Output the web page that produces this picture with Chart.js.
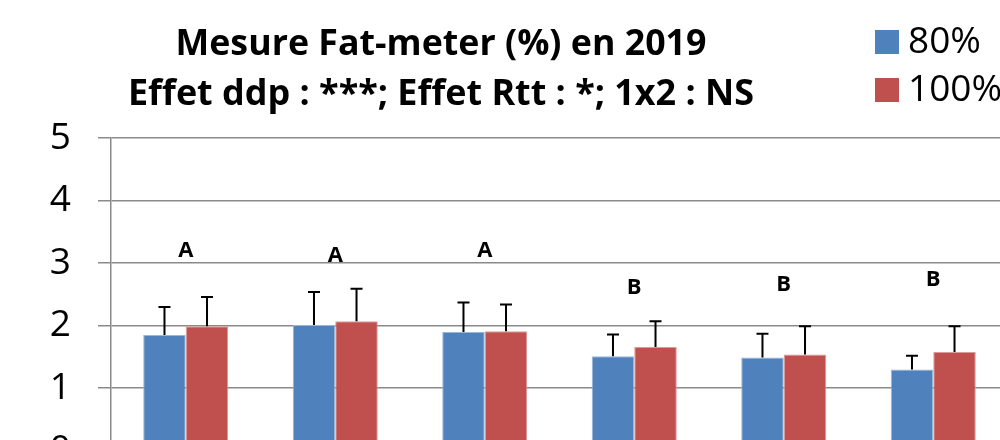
<!DOCTYPE html>
<html>
<head>
<meta charset="utf-8">
<script src="https://cdn.jsdelivr.net/npm/chart.js@4/dist/chart.umd.min.js"></script>
<style>
  html, body { margin: 0; padding: 0; background: #fff; overflow: hidden; width: 1000px; height: 440px; }
  #wrap { position: absolute; left: 0; top: 0; width: 1010px; height: 500px; }
</style>
</head>
<body>
<div id="wrap"><canvas id="c" width="1010" height="500"></canvas></div>
<script>
// ---- data ----
const categories = ['1', '2', '3', '4', '5', '6'];
const seriesNames = ['80%', '100%'];
const values80  = [1.85, 2.01, 1.90, 1.51, 1.49, 1.30];
const values100 = [1.99, 2.07, 1.91, 1.66, 1.54, 1.58];
const err80  = [0.45, 0.53, 0.47, 0.35, 0.38, 0.22];
const err100 = [0.47, 0.52, 0.43, 0.41, 0.45, 0.41];
const groupLetters = ['A', 'A', 'A', 'B', 'B', 'B'];
const letterLevels = [3.2, 3.12, 3.2, 2.61, 2.66, 2.73];
const yTicks = [0, 1, 2, 3, 4, 5];
const titleLines = ['Mesure Fat-meter (%) en 2019', 'Effet ddp : ***; Effet Rtt : *; 1x2 : NS'];

const colors = ['#4F81BD', '#C0504D'];
const borders = ['#9db6d8', '#dc9a98'];
const errors = [err80, err100];

const decorPlugin = {
  id: 'decor',
  afterDatasetsDraw(chart) {
    const ctx = chart.ctx;
    const y = chart.scales.y, x = chart.scales.x;
    // error bars (upper)
    ctx.save();
    ctx.strokeStyle = '#000';
    ctx.lineWidth = 2;
    chart.data.datasets.forEach((ds, di) => {
      const meta = chart.getDatasetMeta(di);
      meta.data.forEach((bar, i) => {
        const top = y.getPixelForValue(ds.data[i] + errors[di][i]);
        ctx.beginPath();
        ctx.moveTo(bar.x, bar.y);
        ctx.lineTo(bar.x, top);
        ctx.moveTo(bar.x - 6, top);
        ctx.lineTo(bar.x + 6, top);
        ctx.stroke();
      });
    });
    // group letters
    ctx.fillStyle = '#000';
    ctx.font = 'bold 22px "Open Sans", sans-serif';
    ctx.textAlign = 'center';
    ctx.textBaseline = 'middle';
    groupLetters.forEach((l, i) => {
      ctx.fillText(l, x.getPixelForValue(i), y.getPixelForValue(letterLevels[i]));
    });
    ctx.restore();
  },
  afterDraw(chart) {
    const ctx = chart.ctx;
    ctx.save();
    // title
    ctx.fillStyle = '#000';
    ctx.font = 'bold 35px "Open Sans", sans-serif';
    ctx.textAlign = 'center';
    ctx.textBaseline = 'alphabetic';
    const targetW = [531, 626];
    const baselines = [55, 105];
    titleLines.forEach((t, k) => {
      const w = ctx.measureText(t).width;
      ctx.save();
      ctx.translate(441, baselines[k]);
      ctx.scale(targetW[k] / w, 1);
      ctx.fillText(t, 0, 0);
      ctx.restore();
    });
    // legend
    ctx.font = '37px "Open Sans", sans-serif';
    ctx.textAlign = 'left';
    ctx.textBaseline = 'middle';
    chart.data.datasets.forEach((ds, di) => {
      const top = 30 + di * 48;
      ctx.fillStyle = ds.backgroundColor;
      ctx.fillRect(875, top, 24, 24);
      ctx.fillStyle = '#000';
      ctx.fillText(ds.label, 908, top + 12);
    });
    ctx.restore();
  }
};

new Chart(document.getElementById('c'), {
  type: 'bar',
  data: {
    labels: categories,
    datasets: [
      { label: seriesNames[0], data: values80, backgroundColor: colors[0], borderColor: borders[0], borderWidth: 1 },
      { label: seriesNames[1], data: values100, backgroundColor: colors[1], borderColor: borders[1], borderWidth: 1 }
    ]
  },
  options: {
    responsive: false,
    animation: false,
    devicePixelRatio: 1,
    layout: { padding: { left: 0, top: 138, right: 2, bottom: 49 } },
    plugins: { legend: { display: false }, title: { display: false }, tooltip: { enabled: false } },
    datasets: { bar: { categoryPercentage: 0.569, barPercentage: 1 } },
    scales: {
      x: { display: false },
      y: {
        min: 0, max: 5,
        afterFit: s => { s.width = 111; },
        afterBuildTicks: s => { s.ticks = yTicks.map(v => ({ value: v })); },
        ticks: { padding: 27, color: '#000', font: { family: '"Open Sans", sans-serif', size: 37 } },
        grid: { color: '#8a8a8a', lineWidth: 1.5, tickLength: 13, drawTicks: true },
        border: { color: '#8a8a8a', width: 1.5 }
      }
    }
  },
  plugins: [decorPlugin]
});
</script>
</body>
</html>
